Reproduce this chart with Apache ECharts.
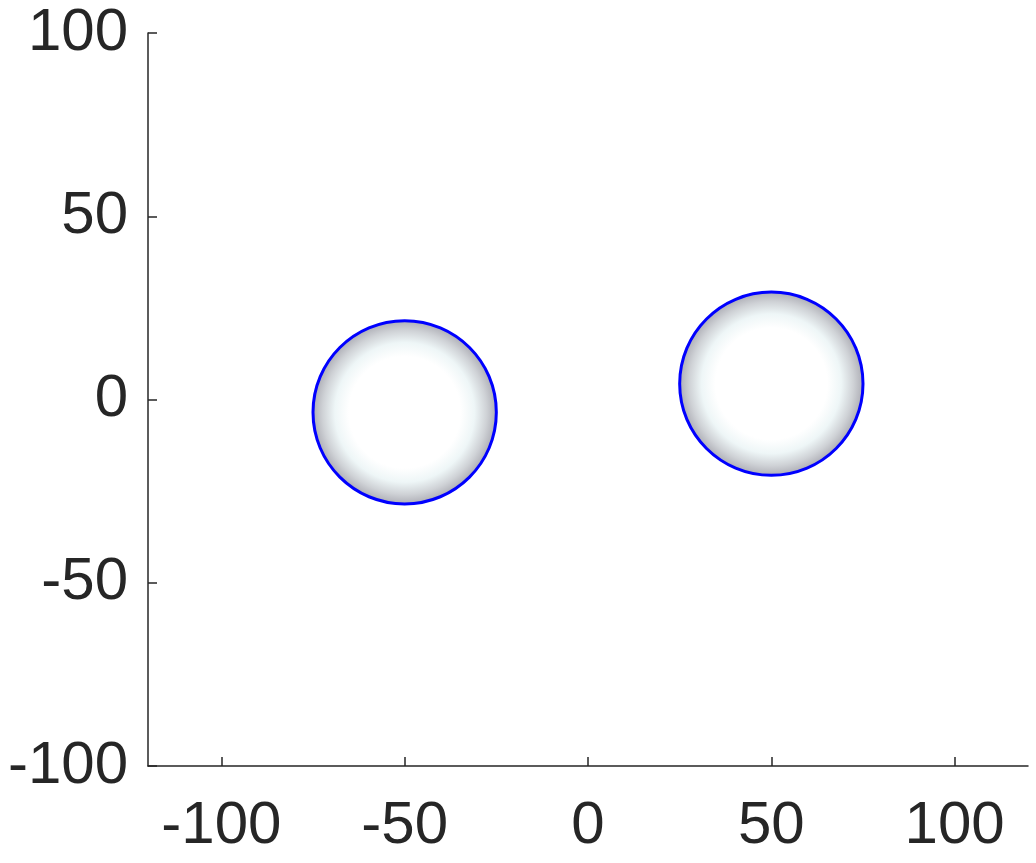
<!DOCTYPE html>
<html>
<head>
<meta charset="utf-8">
<script src="https://cdn.jsdelivr.net/npm/echarts@6/dist/echarts.min.js"></script>
<style>html,body{margin:0;padding:0;background:#fff}#c{width:1036px;height:863px}</style>
</head>
<body>
<div id="c"></div>
<script>
var xTicks = [-100, -50, 0, 50, 100];
var yTicks = [-100, -50, 0, 50, 100];
var circleX = [-50, 50];
var circleY = [-3.5, 4.3];
var circleR = [25, 25];

var chart = echarts.init(document.getElementById('c'), null, {renderer: 'canvas'});
var data = circleX.map(function (x, i) { return [x, circleY[i], circleR[i]]; });
var axisText = {color: '#262626', fontSize: 60, fontFamily: 'Liberation Sans, Arial, sans-serif'};
chart.setOption({
  animation: false,
  grid: {left: 148, right: 8, top: 33, bottom: 97, containLabel: false},
  xAxis: {
    type: 'value', min: -120, max: 120, interval: 10,
    axisLine: {show: true, onZero: false, lineStyle: {color: '#262626', width: 1.5}},
    axisTick: {show: true, inside: true, length: 9, lineStyle: {color: '#262626', width: 1.5},
      customValues: xTicks},
    axisLabel: Object.assign({margin: 30, customValues: xTicks}, axisText),
    splitLine: {show: false}
  },
  yAxis: {
    type: 'value', min: -100, max: 100, interval: 50,
    axisLine: {show: true, onZero: false, lineStyle: {color: '#262626', width: 1.5}},
    axisTick: {show: true, inside: true, length: 9, lineStyle: {color: '#262626', width: 1.5}},
    axisLabel: Object.assign({margin: 20}, axisText),
    splitLine: {show: false}
  },
  series: [{
    type: 'custom',
    data: data,
    renderItem: function (params, api) {
      var c = api.coord([api.value(0), api.value(1)]);
      var s = api.size([api.value(2), api.value(2)]);
      return {
        type: 'ellipse',
        shape: {cx: c[0], cy: c[1], rx: s[0], ry: s[1]},
        style: {
          fill: {
            type: 'radial', x: 0.5, y: 0.5, r: 0.5,
            colorStops: [
              {offset: 0, color: '#ffffff'},
              {offset: 0.6, color: '#ffffff'},
              {offset: 0.75, color: '#eef6f7'},
              {offset: 0.88, color: '#cfd2d6'},
              {offset: 1, color: '#a9a9b1'}
            ]
          },
          stroke: '#0000ff',
          lineWidth: 3
        }
      };
    }
  }]
});
</script>
</body>
</html>
